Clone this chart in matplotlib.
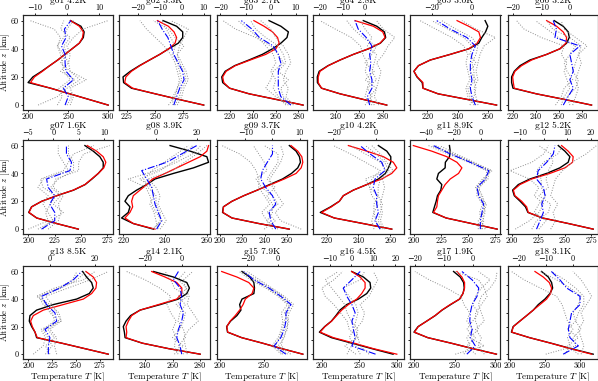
import numpy as np
import matplotlib
matplotlib.use("Agg")
import matplotlib.pyplot as plt
from matplotlib.ticker import FuncFormatter

# ---------------- data ----------------
NAMES = ["g01", "g02", "g03", "g04", "g05", "g06",
         "g07", "g08", "g09", "g10", "g11", "g12",
         "g13", "g14", "g15", "g16", "g17", "g18"]
RMS = ["4.2K", "3.3K", "2.7K", "2.8K", "3.0K", "3.2K",
       "1.6K", "3.9K", "3.7K", "4.2K", "8.9K", "5.2K",
       "8.5K", "2.1K", "7.9K", "4.5K", "1.9K", "3.1K"]

Z_T = [0, 4, 8, 12, 16, 20, 24, 28, 32, 36, 40, 44, 48, 52, 56, 60]
Z_D = [0, 6, 12, 18, 24, 30, 36, 42, 48, 54, 60]

T_BLACK = [
    [300, 276, 252, 228, 200, 206, 217, 227, 237, 246, 255, 264, 269, 270, 266, 253],
    [293, 271, 250, 229, 222, 221.5, 228, 236, 245, 254, 262, 270.5, 274.4, 274.4, 269, 257],
    [284, 260.6, 237, 220, 214, 213.2, 216.2, 224.4, 236.8, 248.5, 257.4, 264.7, 270, 271.2, 264.7, 254.4],
    [283.4, 263.5, 243.7, 228, 224.5, 224.4, 226, 233.5, 243.7, 255, 268, 278, 282.5, 281.4, 275, 263.5],
    [265.8, 246.4, 227, 217, 216.5, 213, 211, 214, 221.8, 235, 247.5, 254, 256, 258.5, 260, 258.2],
    [288.7, 265.2, 240.6, 220.3, 219.1, 219.1, 221.4, 226.4, 235, 249.6, 261.2, 267, 269.3, 268.4, 264, 256.2],
    [247.5, 226.9, 207.9, 200.3, 203, 212.7, 227, 243, 254, 260.5, 266.5, 271.2, 271.2, 268, 261.7, 253.8],
    [234.4, 224.8, 219.2, 222.4, 223.2, 220.8, 222.4, 226.4, 231.2, 235.2, 244, 253.6, 260.8, 260, 252, 242.4],
    [262, 235, 211, 202.6, 203.3, 211, 221.5, 233.5, 244.5, 256, 264, 269.6, 272, 271.1, 268.1, 262.1],
    [261, 243, 224.8, 216, 222.5, 228, 230.5, 236.8, 245.3, 252.6, 257, 258.9, 260.4, 260.4, 257.9, 252.6],
    [276.9, 253.3, 229.7, 217.4, 218.9, 220.5, 221.7, 224.8, 225.7, 221.1, 222.6, 228.8, 229, 232.8, 233.5, 232.8],
    [276.6, 253.4, 229, 215.3, 213, 208, 202.5, 200.9, 206.3, 217.2, 232.8, 245.3, 253.1, 254.7, 250, 243.8],
    [283.7, 259.3, 234.9, 208.7, 207, 203.5, 201, 201.7, 208.7, 226.2, 250.6, 263.8, 268, 266.3, 261, 256.9],
    [280, 257.2, 238, 225.5, 225, 224.2, 226.2, 229.5, 236.4, 251, 264.2, 270.3, 272.2, 270.3, 260.6, 246.1],
    [294.2, 270.4, 248.3, 224.6, 208.5, 207.5, 212, 219.2, 223.8, 222.3, 225, 238.5, 239.2, 238.5, 233.8, 225],
    [295, 267, 240, 213, 197, 204, 213, 219, 224.4, 233.3, 248.9, 260, 265.3, 264.4, 255.6, 240],
    [301.2, 272.4, 245.5, 216.9, 200, 205, 215.6, 226, 234.5, 245, 256, 260.1, 261.7, 260.9, 256.8, 248.6],
    [319, 287.5, 258.5, 227.9, 202, 204.5, 214, 223.8, 233.3, 240.5, 250, 257.1, 261, 259.5, 254.8, 245.2],
]

T_RED = [
    [300, 276, 252, 228, 203, 208, 218, 227, 237, 246, 255, 264, 268, 269, 264, 253],
    [293, 271, 250, 230, 223, 224, 229, 236.5, 245, 254, 262, 267.6, 269, 266.7, 261.7, 252],
    [284, 260.6, 237, 220, 215, 214, 217, 225, 238, 251.5, 260.3, 263.2, 261.8, 257.4, 250, 241.2],
    [283.4, 263.5, 243.7, 228, 225.2, 225.2, 226.7, 233.8, 243.7, 255, 267.8, 277.7, 282, 280, 272, 256.5],
    [265.8, 246.4, 227, 217, 217, 213.3, 211, 214, 221.8, 235, 247.3, 252.9, 255.1, 254, 247.3, 239.6],
    [288.7, 265.2, 240.6, 221.4, 220.6, 220, 222, 227.8, 236.5, 249.6, 261.2, 266.4, 267, 264, 258.3, 249.6],
    [247.5, 226.9, 207.9, 200.6, 203.2, 212.7, 226.9, 242.7, 253.8, 260.1, 266.5, 271.8, 273.7, 271.2, 264.9, 256],
    [235.2, 224.8, 220.8, 223.2, 224.5, 224, 224.8, 228, 231.2, 234, 240, 245.6, 251.2, 256.8, 260, 260.8],
    [262, 235, 211, 202.9, 203.5, 211, 221.5, 233.5, 245.6, 257.6, 268.1, 272.6, 274.1, 273.2, 269.6, 263.6],
    [261, 243, 224.8, 216.8, 223, 228, 230.5, 236.8, 245.3, 254.7, 261, 264.2, 262, 255.8, 245.3, 233.7],
    [276.9, 253.3, 229.7, 218, 221.1, 221.7, 222.6, 225.7, 228.8, 233.5, 241.2, 244.3, 239.7, 230.4, 216.4, 199.4],
    [276.6, 253.4, 229, 215.6, 214.1, 209.4, 203.1, 201.6, 207.8, 218.8, 235.9, 250, 257.2, 257.8, 253.1, 246.9],
    [283.7, 259.3, 234.9, 209.4, 207, 204.2, 202.4, 205.2, 215.7, 236.6, 257.6, 266.3, 270.8, 271.5, 268, 260.3],
    [280, 257.2, 238, 226.2, 226.7, 226.2, 227.9, 230.3, 236.4, 249.7, 263, 266.7, 266.7, 263, 254.5, 244.8],
    [294.2, 270.4, 248.3, 224.6, 208.8, 207.7, 211.5, 217.3, 222.3, 226.2, 228.8, 236.5, 238.5, 232.7, 219.2, 201.9],
    [300, 268.9, 243.1, 215.6, 198, 204.4, 213.3, 220, 226.7, 235.6, 246.7, 253.3, 257.8, 257.8, 251.1, 240],
    [301.2, 272.4, 245.5, 216.9, 200.5, 205.3, 215.6, 225.9, 234.2, 244.4, 256, 260.1, 262.1, 262.1, 258.8, 252.7],
    [316.7, 286.5, 258.1, 227.9, 202.5, 204.8, 214.3, 223.8, 233.3, 242.9, 252.4, 258.1, 259.5, 256.2, 247.6, 235.7],
]

D_BLUE = [
    [-0.6, 0.4, -1.1, 2.0, -0.3, -0.6, -0.6, -1.7, -0.3, -0.8, 1.2],
    [-3.6, -2.3, -0.9, 1.1, 0.4, -1.6, -3.6, -4.9, -6.3, -8.9, -10.9],
    [8, 4, 3, 3, 3, 4, 3, 1, -4.5, -7.5, -11.7],
    [2, 1, 3, 3, 2, 2.5, 2, 3, 0.5, -3, -4.4],
    [1.7, 0, -0.8, 0, -0.8, -0.8, 0, 1.7, -2.5, -10.8, -17.5],
    [-2.3, -0.6, 1.2, 0, 1.2, 0.6, 0, 3.5, -5.2, -4.7, -5.8],
    [-2.3, 0.3, 0.3, -0.7, 0.3, -1.0, -1.3, 3.3, 3.6, 2.6, 2.6],
    [0.3, 2.8, 1.1, -0.5, -1.3, -2.1, -4.6, -7, 5.2, 12.6, 20],
    [1.2, -0.6, -1.2, 1.2, 0, -2.5, -4.3, -3.7, -1.9, 0, 0],
    [1.9, -0.5, 1.1, 0.3, 0.3, -1.3, -0.5, 4.2, 2.7, -2.8, -7.5],
    [-0.5, -0.5, 0.7, 1.9, -1.7, -2.9, 3.2, 5.6, -7.8, -22.3, -34.4],
    [-3, -1.5, -0.1, -0.8, 0.6, -0.1, -3, -2.3, 1.3, 4.1, 4.8],
    [-0.7, -0.7, 0, -2.2, 3, 2.2, -1.5, -3.7, 4.4, 10.4, 14.1],
    [0, -0.9, -2.7, -1.8, 0, 0.9, -0.9, 0, -0.9, -4.5, -1.8],
    [5, -2.6, 1.7, 3.9, 5, 5, 8.3, 1.7, -5.9, -15.7, -22.2],
    [11, 0.2, 1.7, 0.9, 0.2, 1.7, 0.2, -2.1, -3.7, 0.2, 4],
    [-2, 0.9, -0.8, -0.2, -1, -0.8, -0.2, 1.5, 2.1, -0.2, -3.7],
    [-3.6, 2, -1.1, -1.7, -1.1, -0.5, 2.6, 2.6, -2.3, -4.8, -7.9],
]

D_GRAY = [
    [[-3, -1.5, -2.5, 1, -1, -1.5, -2, -3, -2, -4, -11.5],
     [1, 2, 1, 6, 1, 0.5, 1, 0, 2, 5, 12.8],
     [-9, -3, 0, 4, 1, -2, 0, -1, 1, -2, -1],
     [0, 1.5, -1.5, 2.5, -2, 0.5, -1, -3, -1, 0, 2]],
    [[-6, -3, -2, -1, -2, -3, -5, -8, -12, -16, -19],
     [-2, 0, 1, 3, 2, 0, -2, -1, 1, 3, -5],
     [-4, -4, -2, 0, -1, -2, -4, -3, -5, -7, -9],
     [-3, -1, 0, 2, 1, -1, -2, 1, -3, -6, -13]],
    [[7, 2, -2, 0, 1, 5, 3, 0, -6, -14, -19],
     [9, 6, 7, 5, 6, 8, 7, 5, 2, 0, -4],
     [6, 3, 1, 2, 0, 2, 1, -2, -5, -9, -13],
     [8, 5, 4, 7, 3, 6, 5, 3, -2, -6, -8]],
    [[3, 0, 1, 2, 0, 1, -1, -2, -6, -13, -19.7],
     [6, 4, 5, 6, 7, 5, 8, 10, 13, 8, 5],
     [0, 3, 1, 5, 3, 4, 5, 1, 3, 0, -2],
     [4, 2, 5, 0, 4, 0, 3, 5, -1, -5, -8]],
    [[1, -2, -3, -1, -2, -3, -2, -4, -10, -18, -25.8],
     [3, 2, 1, 3, 2, 3, 4, 6, 11.7, 2, -5],
     [-1, 1, 2, 1, 1, 0, 2, 3, 0, -8, -15],
     [2, -1, -2, 2, -1, 2, -1, 0, -4, -12, -20]],
    [[-3, -2, 0, -1, -2, -1, -3, -2, -10, -16, -18.6],
     [1, 2, 3, 2, 3, 4, 3, 6, 2, -2, -3],
     [-5, -3, -2, 1, -1, -2, 0, 2, -4, -8, -12],
     [0, -1, 2, 3, 1, 2, 3, 4, 0, -6, -8]],
    [[-4.9, -1, -1.5, -0.5, 0.5, -2, -2.5, 2, 3, 4, 8],
     [-1, 1, 1.5, 1, 2, 0, 0.5, 5, 5, 6, 11.1],
     [-3, 0, -1, -2, -1, -3, -2, 3, 2, 1, 1],
     [-2, -0.5, 2, 0, 1.5, -0.5, 1, 4, 4, 3, 3]],
    [[-2, 3, 0, -2, -3, -5, -13.6, 0, 10, 18, 22],
     [2, 5, 3, 1, 2, 0, -4, 8, 14, 20, 25],
     [1, 0, -1, -3, -1, -2, -8, 2, 8, 14, 18],
     [-1, 2, 2, 0, 0, -4, -6, -2, 4, 10, 16]],
    [[0, -2, -4, -1, -3, -5, -5, -6, -8, -12, -18.5],
     [10.5, 3, 1, 4, 2, 0, -1, 1, 3, 4, 3],
     [-3, 1, -2, 2, 0, -4, -6, -2, -3, -5, -7],
     [2, -2, 0, 0, -2, 1, -2, 0, 2, 2, -3]],
    [[2, 0, -1, 1, -2, -3, -2, 2, -5, -12, -20],
     [4, 2, 3, 2, 3, 4, 3, 8, 5, 2, -2],
     [-1, -2, -1, -1, 1, -3, -5, 5, 2, -5, -12],
     [3, 1, 2, 3, 1, 1, 2, 6, 4, 0, -5]],
    [[1, 1, 3, 2, 0, -4, 1, 8, -5, -18, -30],
     [-2, -2, 2, 4, -2, -1, 4, 4, -9, -24, -38],
     [3, 0, -1, 1, -3, -3, 2, 7, -7, -21, -33],
     [0, 2, 1, 3, 1, -2, 5, 6, -6, -20, -36]],
    [[-12, -6, -2, 0, -4, -2, -6, -14.2, -5, 0, 2],
     [3, 5, 4, 6, 3, 4, 5, 8, 12, 18, 22.4],
     [-2, 1, -4, -2, 1, -1, -1, -3, 0, 6, 8],
     [-5, -3, 2, 3, -2, 2, 1, 2, 4, 3, -2]],
    [[-7.4, -3, -2, -4, 5, 4, 0, -6, 2, 15, 20],
     [3, 2, 3, 0, 5, 3, 1, -2, 8, 18, 25.9],
     [-2, 1, -1, -3, 2, 1, -3, -5, 4, 10, 12],
     [0, -2, 2, -1, 4, 0, -2, -4, 5, 12, 16]],
    [[-2, -4, -3, -5, -3, -6, -8, -6, -12, -20, -30],
     [3, 2, 1, 4, 9, 6, 3, 4, 2, 1, 6],
     [-4, 1, -5, -1, 1, 2, -3, 3, -4, -6, -9],
     [1, -2, 2, 1, -2, -1, 2, -2, 3, -2, 2]],
    [[8, 2, 3, 6, 6, 7, 10, 4, -4, -12, -20],
     [2, -4, 0, 2, 3, 2, 6, 0, -8, -18, -25],
     [6, 0, 4, 5, 7, 4, 8, 3, -5, -14, -23],
     [3, -2, 1, 3, 4, 6, 7, 1, -7, -16, -22]],
    [[2, -3, 3, -1, -2, -5, -8, -12, -13.5, -8, -4],
     [8, 4, 3, 2, 5, 6, 4, 8, 10, 12, 10],
     [-2, 0, 2, 3, 0, -2, -3, -6, -9, -12, -6],
     [4, 2, -1, 1, 2, 3, 2, -1, -4, 4, 6]],
    [[-3, -1, -2, 0, -2, -1, -3, -4, -9, -15, -19.9],
     [4, 2, 3, 1, 4, 3, 2, 3, 6, 8, 8.4],
     [-6, 4, -1, 2, 1, 1, 3, 5, 4, 2, -6],
     [1, -2, 1, -2, 0, 2, 0, 1, 3, 6, 2]],
    [[-3, -1, -2, 0, -2, -3, -4, -6, -12, -18, -22.6],
     [3, 4, 3, 2, 4, 3, 5, 6.9, 5, 3, 0],
     [-10, 1, 0, 3, 1, 2, 4, 4, 1, -3, -8],
     [2, -2, 2, -2, 1, 0, 2, 3, -1, -6, -12]],
]

XLIM_T = [(193.3, 306.3), (218.2, 298.4), (208.8, 287.6), (221, 297.9), (208.4, 268.4), (215.7, 294.5),
          (194.6, 280.7), (218.1, 261.4), (197.4, 278), (211.6, 268.6), (196.3, 280), (196.3, 281.3),
          (194.1, 288.9), (221.3, 287), (196.2, 299.2), (188.9, 309.3), (195.1, 306.2), (196.7, 326.2)]
XTICKS_T = [[200, 250, 300], [225, 250, 275], [220, 240, 260, 280], [240, 260, 280], [220, 240, 260],
            [220, 240, 260, 280],
            [200, 225, 250, 275], [220, 240, 260], [200, 220, 240, 260], [220, 240, 260],
            [200, 225, 250, 275], [200, 225, 250, 275],
            [200, 225, 250, 275], [240, 260, 280], [200, 250], [200, 250, 300], [200, 250, 300],
            [200, 250, 300]]
XLIM_D = [(-13.8, 14.4), (-28.4, 12.8), (-21.5, 14.5), (-22.6, 16.9), (-30.8, 14.2), (-21.7, 9.9),
          (-6.0, 11.8), (-18, 26.4), (-20.4, 12.7), (-29.4, 13), (-51.4, 14.1), (-15.2, 23.1),
          (-12.1, 28.1), (-34, 15.3), (-39.6, 18.7), (-17.4, 23.9), (-21.6, 9.6), (-24, 9.3)]
XTICKS_D = [[-10, 0, 10], [-20, -10, 0, 10], [-20, -10, 0, 10], [-20, -10, 0], [-20, 0], [-20, -10, 0],
            [-5, 0, 5, 10], [0, 20], [-10, 0, 10], [-20, 0], [-40, -20, 0], [-10, 0, 10, 20],
            [0, 20], [-20, 0], [-20, 0], [-10, 0, 10, 20], [-20, -10, 0], [-20, -10, 0]]

# ---------------- style ----------------
plt.rcParams.update({
    "font.family": ["cmr10", "DejaVu Serif"],
    "mathtext.fontset": "cm",
    "font.size": 6.5,
    "axes.linewidth": 0.8,
    "axes.edgecolor": "0.15",
    "xtick.major.size": 1.6,
    "ytick.major.size": 1.8,
    "xtick.major.width": 0.6,
    "ytick.major.width": 0.6,
    "xtick.major.pad": 0.4,
    "ytick.major.pad": 1.0,
    "xtick.labelsize": 5.8,
    "ytick.labelsize": 5.8,
})

fmt = FuncFormatter(lambda v, p: f"{int(round(v))}".replace("-", "\u2212"))

W, H = 598, 381
fig = plt.figure(figsize=(W / 100, H / 100), dpi=100)

col_left = [22.7, 119.3, 216.7, 313.3, 410.0, 507.7]
col_w = 90.5
row_top = [15, 140, 266]
row_bot = [110, 234, 359]

for i in range(18):
    r, c = divmod(i, 6)
    l = col_left[c] / W
    hp = row_bot[r] - row_top[r]
    b = (H - row_bot[r]) / H
    ax = fig.add_axes([l, b, col_w / W, hp / H])
    ax.plot(T_BLACK[i], Z_T, color="black", lw=1.0, zorder=3)
    ax.plot(T_RED[i], Z_T, color="red", lw=0.9, zorder=4)
    ax.set_xlim(*XLIM_T[i])
    ax.set_xticks(XTICKS_T[i])
    ax.xaxis.set_major_formatter(fmt)
    ax.set_ylim(-3.5, 64)
    ax.set_yticks(range(0, 61, 10))
    if c == 0:
        ax.set_yticklabels(["0", "", "20", "", "40", "", "60"])
        ax.set_ylabel("Altitude $z$ [km]", fontsize=6.3)
        ax.yaxis.set_label_coords(-0.12, 0.5)
    else:
        ax.tick_params(labelleft=False)
    if r == 2:
        ax.set_xlabel("Temperature $T$ [K]", fontsize=6.5)
        ax.xaxis.set_label_coords(0.5, -0.125)

    ax2 = ax.twiny()
    for g in D_GRAY[i]:
        ax2.plot(g, Z_D, color="0.55", ls=":", lw=0.7)
    ax2.plot(D_BLUE[i], Z_D, color="blue", ls="-.", lw=0.8)
    ax2.set_xlim(*XLIM_D[i])
    ax2.set_xticks(XTICKS_D[i])
    ax2.xaxis.set_major_formatter(fmt)
    ax2.text(0.5, 1 + 14.5 / hp, f"{NAMES[i]} {RMS[i]}", transform=ax2.transAxes,
             ha="center", va="center", fontsize=6.8)

fig.savefig("out.png", dpi=100)
